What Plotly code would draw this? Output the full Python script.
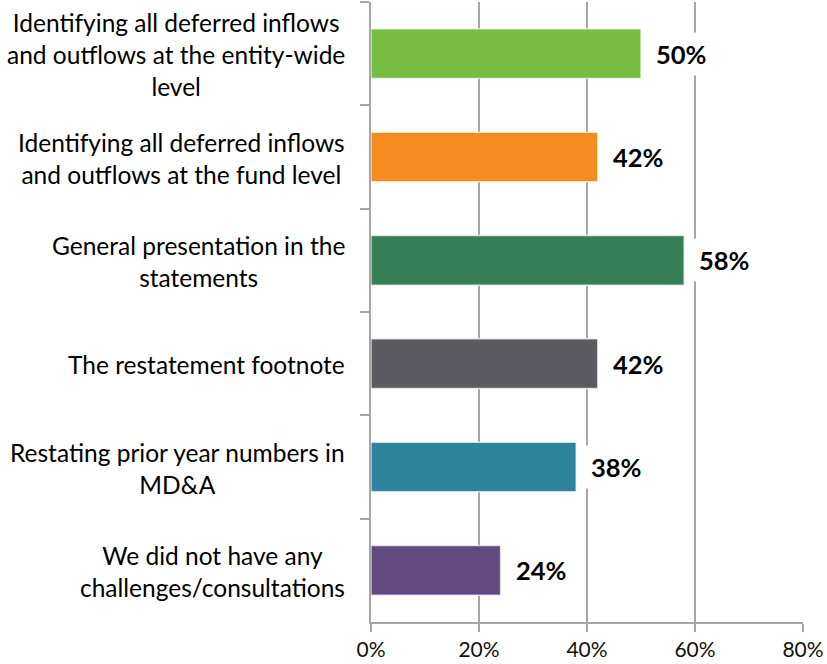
import plotly.graph_objects as go

categories = [
    "Identifying all deferred inflows<br>and outflows at the entity-wide<br>level",
    "Identifying all deferred inflows<br>and outflows at the fund level",
    "General presentation in the<br>statements",
    "The restatement footnote",
    "Restating prior year numbers in<br>MD&A",
    "We did not have any<br>challenges/consultations",
]
values = [0.50, 0.42, 0.58, 0.42, 0.38, 0.24]
colors = ["#77BC43", "#F68B1F", "#367E55", "#5C5B62", "#2F849D", "#614A7D"]
x_ticks = [0, 0.2, 0.4, 0.6, 0.8]
x_tick_labels = ["0%", "20%", "40%", "60%", "80%"]

AXIS_GRAY = "#A6A6A6"
FONT = "Lato"

fig = go.Figure(
    go.Bar(
        x=values,
        y=categories,
        orientation="h",
        width=0.48,
        marker=dict(color=colors, line=dict(color="rgba(255,255,255,0.7)", width=1.5)),
        hoverinfo="skip",
    )
)

annotations = []
for cat, v in zip(categories, values):
    # category label, centered lines, right-aligned block left of the axis
    annotations.append(dict(
        x=0, xref="paper", y=cat, yref="y",
        xanchor="right", yanchor="middle", xshift=-24, yshift=-1,
        text=cat, showarrow=False, align="center",
        font=dict(family=FONT, size=24.5, color="#000000"),
    ))
    # value label with white box so gridlines break around it
    annotations.append(dict(
        x=v, xref="x", y=cat, yref="y",
        xanchor="left", yanchor="middle", xshift=8,
        text=f"<b>{v:.0%}</b>", showarrow=False,
        bgcolor="white", borderpad=6,
        font=dict(family=FONT, size=25.5, color="#000000"),
    ))

fig.update_layout(
    width=827, height=664,
    margin=dict(l=371, r=24, t=2, b=42),
    paper_bgcolor="white", plot_bgcolor="white",
    showlegend=False,
    bargap=0.52,
    annotations=annotations,
    font=dict(family=FONT, color="#000000"),
)
fig.update_xaxes(
    range=[0, 0.8], tickvals=x_ticks, ticktext=x_tick_labels,
    showgrid=True, gridcolor=AXIS_GRAY, gridwidth=1.5,
    showline=True, linecolor=AXIS_GRAY, linewidth=1.5,
    ticks="outside", ticklen=8, tickcolor=AXIS_GRAY, tickwidth=1.5,
    tickfont=dict(family=FONT, size=21, color="#111111"),
    zeroline=False, fixedrange=True,
)
fig.update_yaxes(
    type="category", autorange="reversed", tickson="boundaries",
    showticklabels=False, showgrid=False,
    showline=True, linecolor=AXIS_GRAY, linewidth=1.5,
    ticks="outside", ticklen=9, tickcolor=AXIS_GRAY, tickwidth=1.5,
    fixedrange=True,
)

fig.write_html("out.html")
